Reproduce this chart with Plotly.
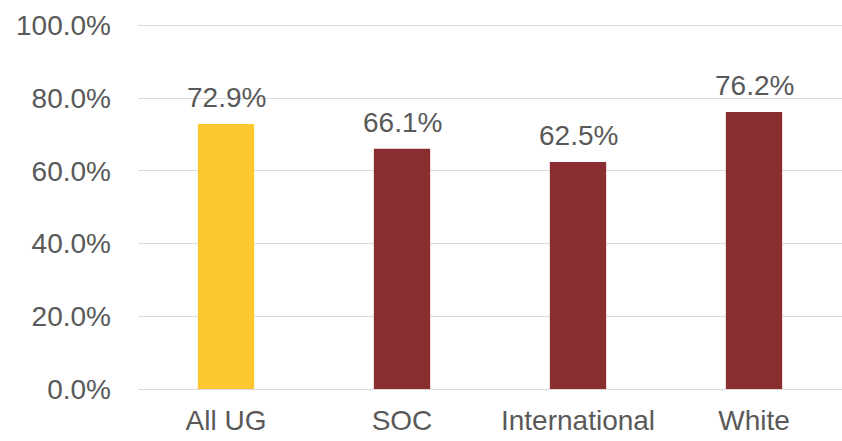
import plotly.graph_objects as go

categories = ["All UG", "SOC", "International", "White"]
values = [0.729, 0.661, 0.625, 0.762]
colors = ["#FDC82F", "#8A2D31", "#8A2D31", "#8A2D31"]
labels = ["72.9%", "66.1%", "62.5%", "76.2%"]

fig = go.Figure(go.Bar(
    x=categories, y=values, marker_color=colors, marker_line_width=0,
    width=0.32, hoverinfo="x+y",
))
for c, v, t in zip(categories, values, labels):
    fig.add_annotation(x=c, y=v, text=t, showarrow=False, yanchor="bottom", yshift=9,
                       font=dict(size=28, color="#595959", family="Liberation Sans, Arial"))
fig.update_layout(
    width=842, height=441,
    margin=dict(l=138, r=0, t=22, b=52),
    paper_bgcolor="white", plot_bgcolor="white",
    font=dict(family="Liberation Sans, Arial", size=28, color="#595959"),
    showlegend=False,
)
fig.update_yaxes(range=[0, 1.01], tickvals=[0, 0.2, 0.4, 0.6, 0.8, 1.0], tickformat=".1%",
                 showgrid=True, gridcolor="#D9D9D9", gridwidth=1, zeroline=False,
                 ticklabelstandoff=26, tickfont=dict(size=28, color="#595959"))
fig.update_xaxes(showline=True, linecolor="#D9D9D9", ticks="", ticklabelstandoff=6,
                 tickfont=dict(size=28, color="#595959"))
fig.write_html("out.html")
